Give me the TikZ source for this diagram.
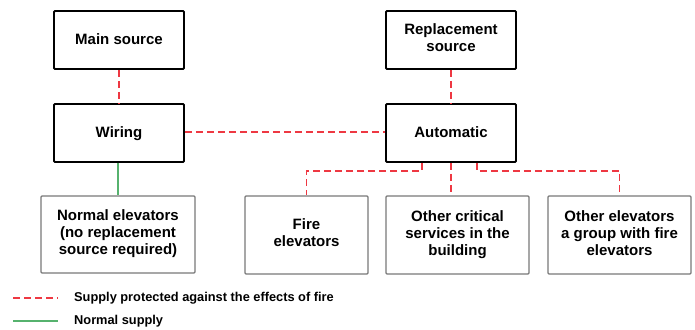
\documentclass[tikz,border=0pt]{standalone}
\usepackage{fontspec}
\setmainfont{Liberation Sans}
\usetikzlibrary{positioning}
\definecolor{firered}{RGB}{238,56,66}
\definecolor{supplygreen}{RGB}{86,178,110}
\definecolor{boxgray}{RGB}{120,120,120}
\newcommand\boxstrut{\rule[-4pt]{0pt}{17.5pt}}

\begin{document}
\begin{tikzpicture}[
  x=1pt, y=-1pt,
  mainbox/.style={rectangle, draw, line width=1.8pt, rounded corners=1pt, minimum width=130pt, minimum height=58pt, align=center, font=\fontsize{15}{17}\selectfont\bfseries, execute at begin node=\boxstrut, execute at end node=\boxstrut},
  loadbox/.style={rectangle, draw=boxgray, line width=1.1pt, rounded corners=1pt, minimum width=143pt, minimum height=78pt, align=center, font=\fontsize{15}{17}\selectfont\bfseries, execute at begin node=\boxstrut, execute at end node=\boxstrut},
  protected/.style={draw=firered, line width=1.7pt, dash pattern=on 7pt off 4pt},
  normal/.style={draw=supplygreen, line width=1.5pt},
  legendtext/.style={anchor=west, inner sep=0pt, font=\fontsize{12.8}{14}\selectfont\bfseries},
]
\useasboundingbox (0,0) rectangle (695,329);
\node[mainbox] (main) at (119,40) {Main source};
\node[mainbox] (wiring) at (119,133) {Wiring};
\node[mainbox] (repl) at (451,40) {Replacement\\source};
\node[mainbox] (auto) at (451,133) {Automatic};
\node[loadbox, minimum width=154pt, minimum height=77pt] (normal) at (118,234.5) {Normal elevators\\(no replacement\\source required)};
\node[loadbox, minimum width=123pt] (fire) at (306.5,235) {Fire\\elevators};
\node[loadbox] (crit) at (457.5,235) {Other critical\\services in the\\building};
\node[loadbox] (other) at (619.5,235) {Other elevators\\a group with fire\\elevators};
\coordinate (bus) at (451,171);
\draw[protected] (main) -- (wiring);
\draw[protected] (repl) -- (auto);
\draw[protected] ([yshift=1pt]wiring.east) -- ([yshift=1pt]auto.west);
\draw[normal] (wiring.south -| normal.north) -- (normal.north);
\draw[protected] ([xshift=-29pt]auto.south) |- (fire.north |- bus) -- (fire.north);
\draw[protected] (auto.south) -- (auto.south |- crit.north);
\draw[protected] ([xshift=26pt]auto.south) |- (other.north |- bus) -- (other.north);
% legend
\coordinate (dashA) at (13,298);
\coordinate (dashB) at (58,298);
\coordinate (lineA) at (13,321);
\coordinate (lineB) at (58,321);
\draw[protected] (dashA) -- (dashB);
\draw[normal] (lineA) -- (lineB);
\node[legendtext] (dashlabel) at (74,298) {Supply protected against the effects of fire};
\node[legendtext] (linelabel) at (74,321) {Normal supply};
\end{tikzpicture}
\end{document}
